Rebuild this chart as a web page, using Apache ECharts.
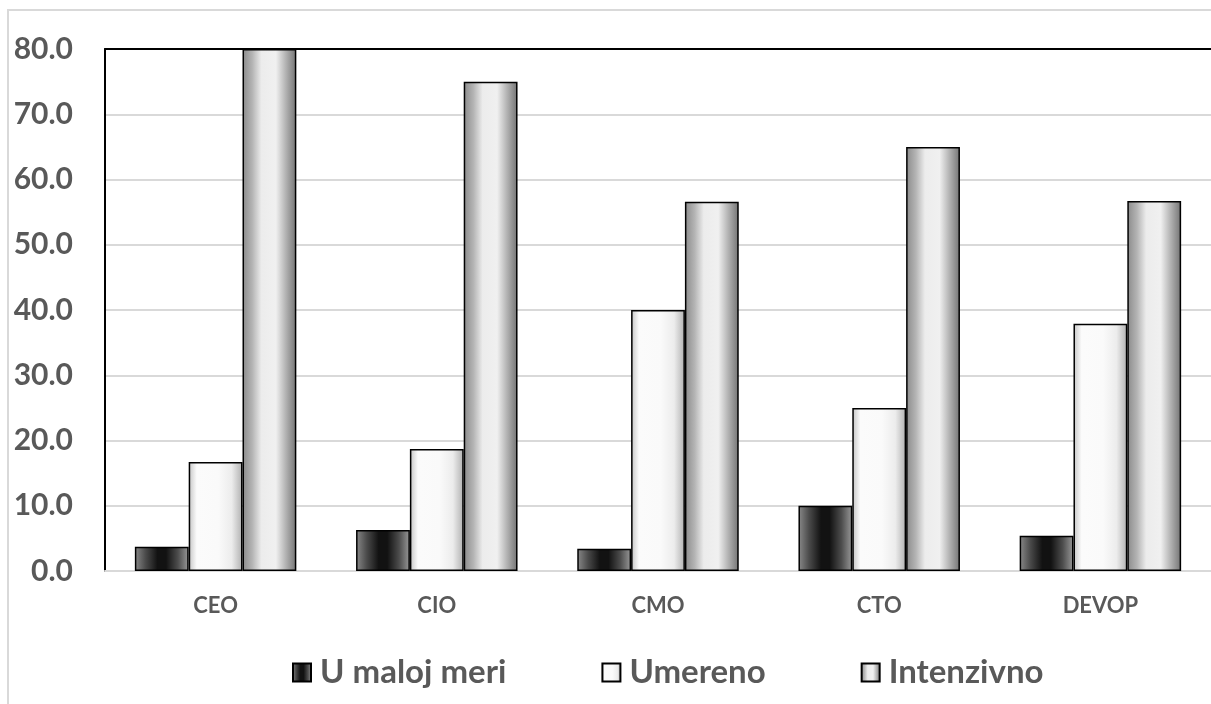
<!DOCTYPE html>
<html>
<head>
<meta charset="utf-8">
<script src="https://cdn.jsdelivr.net/npm/echarts@6/dist/echarts.min.js"></script>
<style>
  html, body { margin: 0; padding: 0; background: #fff; }
  #chart { width: 1211px; height: 704px; }
</style>
</head>
<body>
<div id="chart"></div>
<script>
// Roles and the share (%) of each usage level
const categories = ['CEO', 'CIO', 'CMO', 'CTO', 'DEVOP'];
const seriesNames = ['U maloj meri', 'Umereno', 'Intenzivno'];
const maloj = [3.7, 6.3, 3.4, 10.0, 5.4];
const umereno = [16.7, 18.7, 40.0, 25.0, 37.9];
const intenzivno = [80.0, 75.0, 56.6, 65.0, 56.7];

const font = 'Lato, "Open Sans", sans-serif';
const textGray = '#595959';
const gridGray = '#d9d9d9';

function hGrad(stops) {
  return new echarts.graphic.LinearGradient(0, 0, 1, 0,
    stops.map(s => ({ offset: s[0], color: s[1] })));
}

const fills = [
  hGrad([[0, '#8a8a8a'], [0.2, '#4a4a4a'], [0.42, '#121212'], [0.58, '#121212'], [0.8, '#4d4d4d'], [1, '#9a9a9a']]),
  hGrad([[0, '#c4c4c4'], [0.15, '#fbfbfb'], [0.55, '#fafafa'], [0.8, '#ececec'], [1, '#b0b0b0']]),
  hGrad([[0, '#8a8a8a'], [0.18, '#b4b4b4'], [0.35, '#ececec'], [0.62, '#f0f0f0'], [0.8, '#b4b4b4'], [1, '#737373']])
];

const values = [maloj, umereno, intenzivno];

const chart = echarts.init(document.getElementById('chart'), null, { renderer: 'canvas' });
chart.setOption({
  animation: false,
  backgroundColor: '#fff',
  graphic: [{
    type: 'rect',
    shape: { x: 8, y: 10, width: 1400, height: 900 },
    style: { fill: 'none', stroke: gridGray, lineWidth: 2 },
    silent: true,
    z: -1
  }],
  grid: { left: 105, right: -1, top: 49, bottom: 133, containLabel: false },
  legend: {
    top: 651,
    left: 287,
    itemWidth: 18,
    itemHeight: 18,
    itemGap: 95,
    icon: 'rect',
    textStyle: { fontFamily: font, fontWeight: 'bold', fontSize: 33, color: textGray, padding: [0, 0, 0, 4] },
    data: seriesNames
  },
  xAxis: [{
    type: 'category',
    data: categories,
    axisTick: { show: false },
    axisLine: { lineStyle: { color: gridGray, width: 2 } },
    axisLabel: { fontFamily: font, fontWeight: 'bold', fontSize: 22, color: textGray, margin: 24 }
  }, {
    type: 'category',
    position: 'top',
    data: categories,
    axisTick: { show: false },
    axisLabel: { show: false },
    axisLine: { lineStyle: { color: '#000', width: 2 } }
  }],
  yAxis: {
    type: 'value',
    min: 0,
    max: 80,
    interval: 10,
    axisLine: { show: true, lineStyle: { color: '#000', width: 2 } },
    axisTick: { show: false },
    splitLine: { lineStyle: { color: gridGray, width: 2 } },
    axisLabel: {
      fontFamily: font, fontWeight: 'bold', fontSize: 30, color: textGray, margin: 32,
      formatter: v => v.toFixed(1)
    }
  },
  series: seriesNames.map((name, i) => ({
    name,
    type: 'bar',
    data: values[i],
    barGap: '0%',
    barCategoryGap: '27%',
    itemStyle: { color: fills[i], borderColor: '#000', borderWidth: 1.5 }
  }))
});
</script>
</body>
</html>
